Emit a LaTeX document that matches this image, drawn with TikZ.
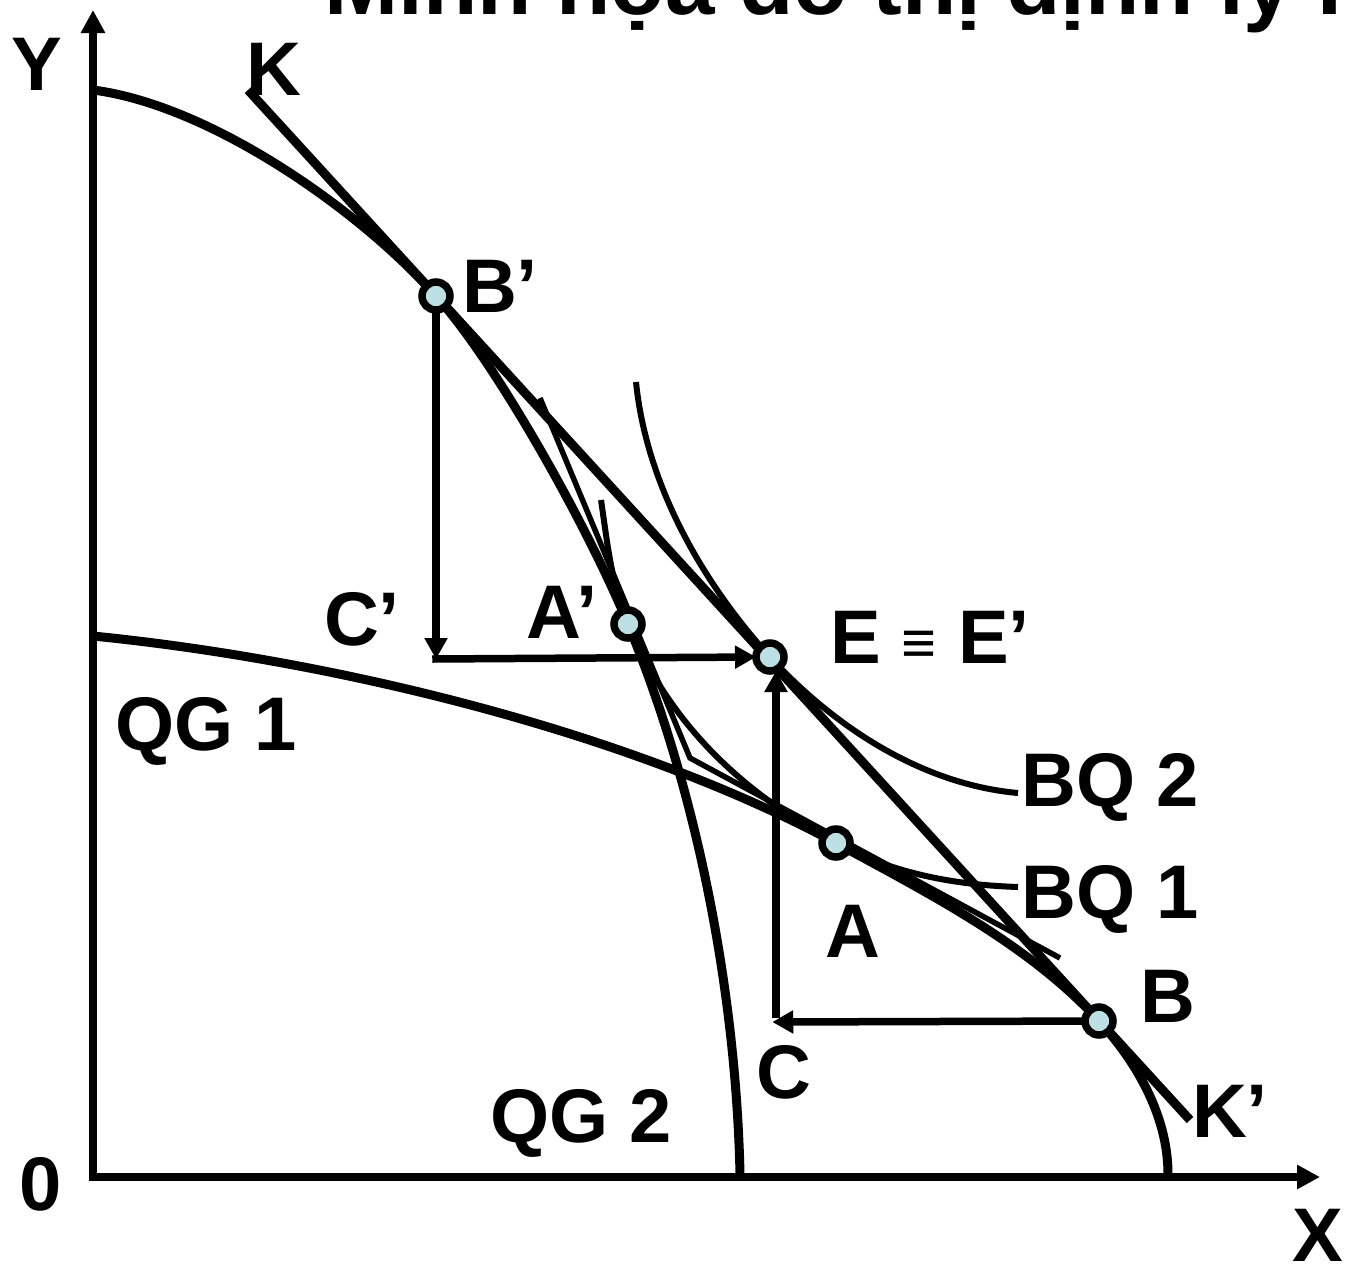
\documentclass[tikz,border=0pt]{standalone}
\usepackage{fontspec}
\setmainfont{Liberation Sans}
\usetikzlibrary{arrows.meta}
\definecolor{dotfill}{RGB}{188,224,228}
\begin{document}
\begin{tikzpicture}[x=1pt,y=-1pt,
  lbl/.style={font=\fontsize{76}{80}\selectfont\bfseries, inner sep=0pt, anchor=base},
  ppf/.style={line width=9pt},
  icurve/.style={line width=6pt},
  tline/.style={line width=5.5pt},
  kline/.style={line width=9pt},
  axisline/.style={line width=8pt, {Triangle[length=23pt,width=23pt]}-{Triangle[length=23pt,width=23pt]}},
  flow/.style={line width=7.5pt, -{Triangle[length=21pt,width=22pt]}},
  dot/.style={circle, draw=black, line width=7.5pt, fill=dotfill, minimum size=28pt, inner sep=0pt, outer sep=0pt}
]
\useasboundingbox (0,0) rectangle (1347,1267);

% title (partly outside the page)
\node[anchor=base west, inner sep=0pt, font=\fontsize{89}{90}\selectfont\bfseries] (title) at (324,14) {Minh họa đồ thị định lý H-O};

% axes
\coordinate (O) at (93,1177);
\coordinate (Ytip) at (93,10);
\coordinate (Xtip) at (1320,1177);
\draw[axisline] (Ytip) -- (O) -- (Xtip);

% key points
\coordinate (pBp) at (436,296);
\coordinate (pAp) at (628,624);
\coordinate (pE) at (770,657);
\coordinate (pA) at (836,843);
\coordinate (pB) at (1099,1021);

% QG 2 (tall PPF)
\draw[ppf] (93,90) .. controls (210,105) and (360,210) .. (pBp)
  .. controls (496,362) and (588,527) .. (pAp)
  .. controls (698,793) and (736,994) .. (740,1174);
% QG 1 (flat PPF)
\draw[ppf] (93,636) .. controls (343,661) and (636,735) .. (pA)
  .. controls (926,892) and (1029,944) .. (pB)
  .. controls (1134,1059) and (1168,1114) .. (1168,1174);

% BQ 1
\draw[icurve] (601,500) .. controls (607,540) and (611,583) .. (pAp)
  .. controls (668,720) and (736,789) .. (pA)
  .. controls (896,875) and (958,885) .. (1018,887);
% BQ 2
\draw[icurve] (636,382) .. controls (646,482) and (700,580) .. (pE)
  .. controls (840,733) and (928,785) .. (1018,793);

% autarky price lines
\coordinate (T1) at (540,398);
\coordinate (T2) at (690,758);
\coordinate (T3) at (1060,958);
\draw[tline] (T1) -- (T2) -- (T3);

% trade price line K-K'
\coordinate (Kend) at (248,90);
\coordinate (Kpend) at (1190,1120);
\draw[kline] (Kend) -- (Kpend);

% points
\node[dot] (Bp) at (pBp) {};
\node[dot] (Ap) at (pAp) {};
\node[dot] (E) at (pE) {};
\node[dot] (A) at (pA) {};
\node[dot] (B) at (pB) {};

\coordinate (Cp) at (436,659);
\coordinate (C) at (776,1022);

% trade triangles
\draw[flow] (Bp) -- (Cp);
\draw[flow] ([xshift=-3.75pt]Cp) -- (E.west);
\draw[flow] (B) -- ([xshift=-3.75pt]C);
\draw[flow] ([yshift=3.75pt]C) -- (C |- E.south);

% labels
\node[lbl] (lY) at (37,90) {Y};
\node[lbl] (lK) at (274,95) {K};
\node[lbl] (lBp) at (500,312) {B’};
\node[lbl] (lCp) at (362,645) {C’};
\node[lbl] (lAp) at (562,638) {A’};
\node[lbl] (lE) at (930,663) {E {\fontsize{60}{60}\selectfont ≡} E’};
\node[lbl] (lQG1) at (206,750) {QG 1};
\node[lbl] (lBQ2) at (1110,806) {BQ 2};
\node[lbl] (lBQ1) at (1110,918) {BQ 1};
\node[lbl] (lA) at (853,957) {A};
\node[lbl] (lB) at (1168,1022) {B};
\node[lbl] (lC) at (784,1098) {C};
\node[lbl] (lKp) at (1230,1137) {K’};
\node[lbl] (lQG2) at (581,1142) {QG 2};
\node[lbl] (l0) at (41,1210) {0};
\node[lbl] (lX) at (1318,1261) {X};
\end{tikzpicture}
\end{document}
